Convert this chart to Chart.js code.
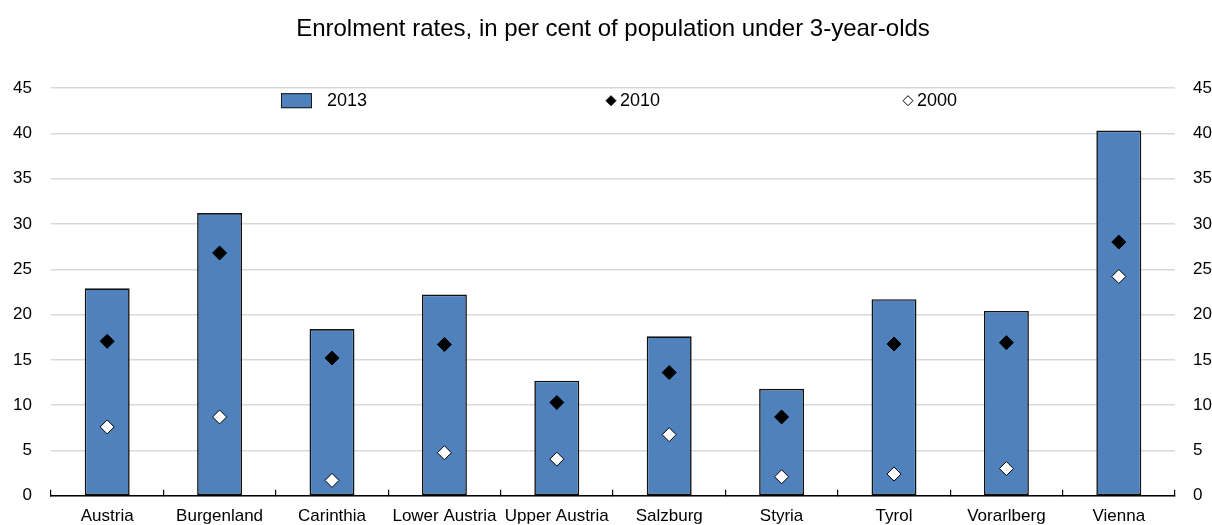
<!DOCTYPE html>
<html>
<head>
<meta charset="utf-8">
<script src="https://cdn.jsdelivr.net/npm/chart.js@4"></script>
<style>
  html, body { margin: 0; padding: 0; background: #fff; }
  #wrap { width: 1212px; height: 525px; }
</style>
</head>
<body>
<div id="wrap"><canvas id="enrolChart" width="1212" height="525"></canvas></div>
<script>
const regions = ["Austria", "Burgenland", "Carinthia", "Lower Austria", "Upper Austria",
  "Salzburg", "Styria", "Tyrol", "Vorarlberg", "Vienna"];
const rate2013 = [22.9, 31.2, 18.4, 22.2, 12.7, 17.6, 11.8, 21.7, 20.4, 40.3];
const rate2010 = [17.05, 26.8, 15.2, 16.7, 10.3, 13.6, 8.7, 16.75, 16.9, 28.0];
const rate2000 = [7.6, 8.7, 1.7, 4.75, 4.05, 6.75, 2.1, 2.4, 3.0, 24.2];
const yTicks = [0, 5, 10, 15, 20, 25, 30, 35, 40, 45];

const FONT = "'Liberation Sans', Arial, sans-serif";

// legend drawn inside the plot, items spread across the top band
const insideLegend = {
  id: "insideLegend",
  afterDraw(chart) {
    const ctx = chart.ctx;
    const y = chart.scales.y.getPixelForValue(43.6);
    const spots = [281, 605, 902];
    ctx.save();
    ctx.font = "18px " + FONT;
    ctx.textBaseline = "middle";
    chart.data.datasets.forEach((ds, i) => {
      const x = spots[i];
      let tx;
      if (ds.type === "line") {
        ctx.beginPath();
        ctx.moveTo(x + 6, y - 5);
        ctx.lineTo(x + 11, y);
        ctx.lineTo(x + 6, y + 5);
        ctx.lineTo(x + 1, y);
        ctx.closePath();
        ctx.fillStyle = ds.backgroundColor;
        ctx.fill();
        ctx.lineWidth = 1;
        ctx.strokeStyle = "#000";
        ctx.stroke();
        tx = x + 15;
      } else {
        ctx.fillStyle = ds.backgroundColor;
        ctx.fillRect(x, y - 7.5, 31, 15);
        ctx.lineWidth = 1;
        ctx.strokeStyle = "#1a1a1a";
        ctx.strokeRect(x + 0.5, y - 7, 30, 14);
        tx = x + 46;
      }
      ctx.fillStyle = "#000";
      ctx.fillText(ds.label, tx, y);
    });
    ctx.restore();
  }
};

const ctx = document.getElementById("enrolChart").getContext("2d");
const chart = new Chart(ctx, {
  type: "bar",
  data: {
    labels: regions,
    datasets: [
      {
        label: "2013",
        data: rate2013,
        backgroundColor: "#4F81BD",
        borderColor: "#111",
        borderWidth: 1.6,
        borderSkipped: false,
        barPercentage: 0.4,
        categoryPercentage: 1,
        order: 2,
      },
      {
        type: "line",
        label: "2010",
        data: rate2010,
        showLine: false,
        pointStyle: "rectRot",
        pointRadius: 7,
        pointBackgroundColor: "#000",
        pointBorderColor: "#000",
        pointBorderWidth: 1,
        backgroundColor: "#000",
        order: 1,
      },
      {
        type: "line",
        label: "2000",
        data: rate2000,
        showLine: false,
        pointStyle: "rectRot",
        pointRadius: 7,
        pointBackgroundColor: "#fff",
        pointBorderColor: "#000",
        pointBorderWidth: 1,
        backgroundColor: "#fff",
        order: 0,
      },
    ],
  },
  options: {
    responsive: false,
    animation: false,
    layout: { padding: 0 },
    plugins: {
      legend: { display: false },
      tooltip: { enabled: false },
      title: {
        display: true,
        fullSize: false,
        text: "Enrolment rates, in per cent of population under 3-year-olds",
        color: "#000",
        font: { family: FONT, size: 24, weight: "normal", lineHeight: 1.2 },
        padding: { top: 15, bottom: 44.2 },
      },
    },
    scales: {
      x: {
        offset: true,
        afterFit: (s) => { s.height = 28; },
        grid: {
          display: true,
          offset: true,
          drawOnChartArea: false,
          drawTicks: true,
          tickLength: -6,
          color: "#000",
          lineWidth: 1.2,
        },
        border: { display: true, color: "#000", width: 1.5 },
        ticks: {
          color: "#000",
          font: { family: FONT, size: 17 },
          padding: 16,
          maxRotation: 0,
          autoSkip: false,
        },
      },
      y: {
        position: "left",
        min: 0,
        max: 45,
        afterFit: (s) => { s.width = 51; },
        afterBuildTicks: (s) => { s.ticks = yTicks.map((v) => ({ value: v })); },
        grid: { color: "#d9d9d9", lineWidth: 1.4, drawTicks: false },
        border: { display: false },
        ticks: {
          color: "#000",
          font: { family: FONT, size: 17 },
          padding: 19,
        },
      },
      y2: {
        position: "right",
        min: 0,
        max: 45,
        afterFit: (s) => { s.width = 37; },
        afterBuildTicks: (s) => { s.ticks = yTicks.map((v) => ({ value: v })); },
        grid: { display: false, drawTicks: false },
        border: { display: false },
        ticks: {
          color: "#000",
          font: { family: FONT, size: 17 },
          padding: 18,
        },
      },
    },
  },
  plugins: [insideLegend],
});
</script>
</body>
</html>
